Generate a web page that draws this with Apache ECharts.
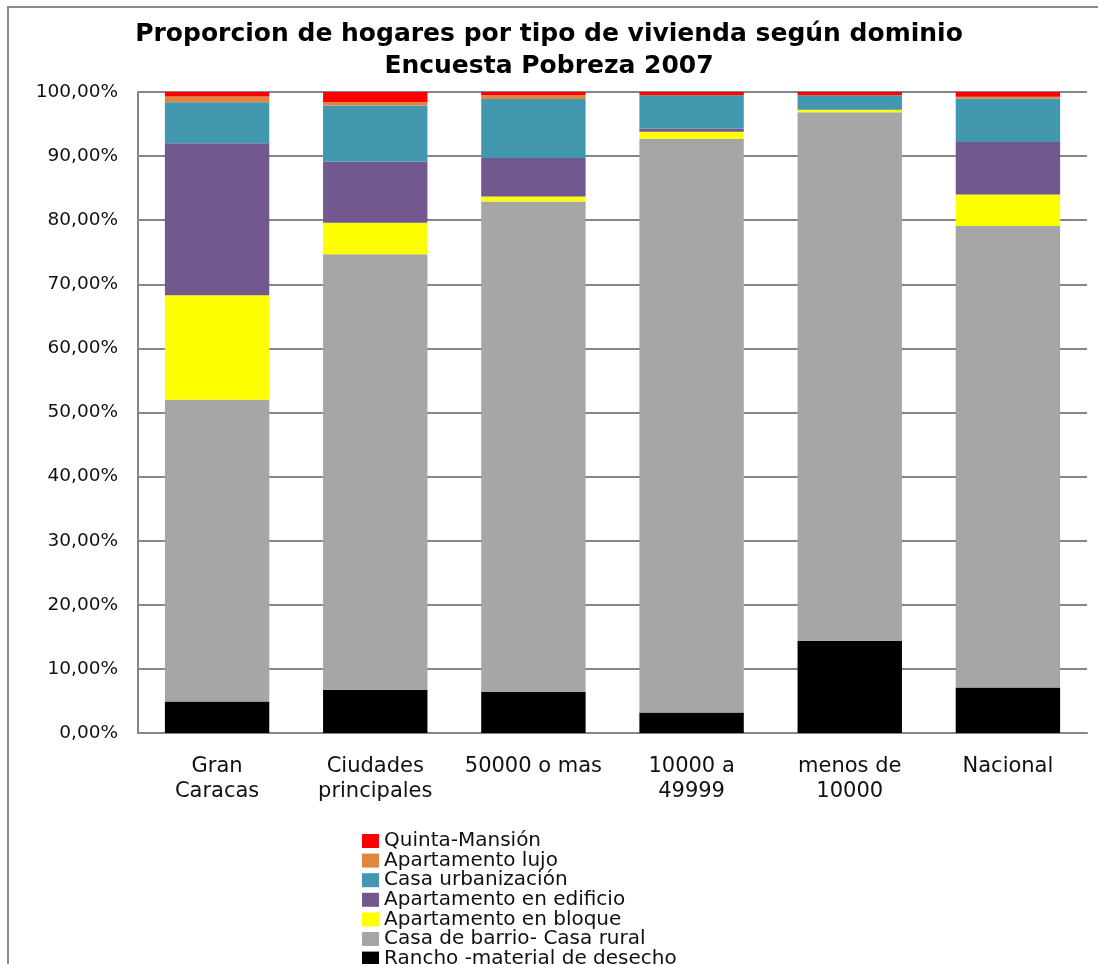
<!DOCTYPE html>
<html>
<head>
<meta charset="utf-8">
<script src="https://cdn.jsdelivr.net/npm/echarts@6/dist/echarts.min.js"></script>
<style>html,body{margin:0;padding:0;background:#fff;overflow:hidden;}#wrap{width:1098px;height:964px;overflow:hidden;}#chart{width:1098px;height:1000px;}</style>
</head>
<body>
<div id="wrap"><div id="chart"></div></div>
<script>
const categories = ['Gran\nCaracas', 'Ciudades\nprincipales', '50000 o mas', '10000 a\n49999', 'menos de\n10000', 'Nacional'];
const rancho       = [4.9, 6.7, 6.4, 3.2, 14.4, 7.1];
const barrio       = [47.1, 68.0, 76.5, 89.5, 82.45, 72.0];
const bloque       = [16.3, 4.9, 0.8, 1.1, 0.35, 4.9];
const edificio     = [23.7, 9.5, 6.0, 0.5, 0.05, 8.2];
const urbanizacion = [6.4, 8.8, 9.2, 5.2, 2.25, 6.8];
const lujo         = [0.9, 0.55, 0.6, 0.0, 0.0, 0.25];
const quinta       = [0.7, 1.55, 0.5, 0.5, 0.5, 0.75];
const seriesNames = ['Rancho -material de desecho', 'Casa de barrio- Casa rural', 'Apartamento en bloque', 'Apartamento en edificio', 'Casa urbanización', 'Apartamento lujo', 'Quinta-Mansión'];
const seriesData = [rancho, barrio, bloque, edificio, urbanizacion, lujo, quinta];
const colors = ['#000000', '#A6A6A6', '#FFFF00', '#71588F', '#4198AF', '#E0873F', '#FF0000'];
const titleText = 'Proporcion de hogares por tipo de vivienda según dominio\nEncuesta Pobreza 2007';

const FONT = 'DejaVu Sans';
const chart = echarts.init(document.getElementById('chart'), null, {renderer: 'canvas'});
chart.setOption({
  animation: false,
  backgroundColor: '#fff',
  textStyle: {fontFamily: FONT},
  title: {
    text: titleText,
    left: 'center',
    top: 13,
    textStyle: {fontFamily: FONT, fontWeight: 'bold', fontSize: 25, lineHeight: 32, color: '#000'}
  },
  graphic: [{
    type: 'rect', shape: {x: 8, y: 7, width: 1200, height: 1100},
    style: {fill: 'none', stroke: '#8a8a8a', lineWidth: 2}, silent: true
  }],
  legend: {
    orient: 'vertical',
    left: 357,
    top: 826,
    itemWidth: 17,
    itemHeight: 14,
    itemGap: -0.4,
    icon: 'rect',
    data: seriesNames.slice().reverse(),
    textStyle: {fontFamily: FONT, fontSize: 20, lineHeight: 20, color: '#111'}
  },
  grid: {left: 138, right: 11, top: 92, bottom: 267, containLabel: false},
  xAxis: {
    type: 'category',
    data: categories,
    axisLine: {lineStyle: {color: '#868686', width: 2}},
    axisTick: {show: false},
    axisLabel: {fontFamily: FONT, fontSize: 21, lineHeight: 25, color: '#111', margin: 21, interval: 0}
  },
  yAxis: {
    type: 'value',
    min: 0, max: 100, interval: 10,
    axisLine: {show: true, lineStyle: {color: '#868686', width: 2}},
    axisTick: {show: false},
    splitLine: {lineStyle: {color: '#868686', width: 2}},
    axisLabel: {
      fontFamily: FONT, fontSize: 18.5, color: '#111', margin: 20,
      formatter: v => v.toFixed(2).replace('.', ',') + '%'
    }
  },
  series: seriesNames.map((n, i) => ({
    name: n,
    type: 'bar',
    stack: 'total',
    barWidth: '66%',
    data: seriesData[i],
    itemStyle: {color: colors[i]}
  }))
});
</script>
</body>
</html>
